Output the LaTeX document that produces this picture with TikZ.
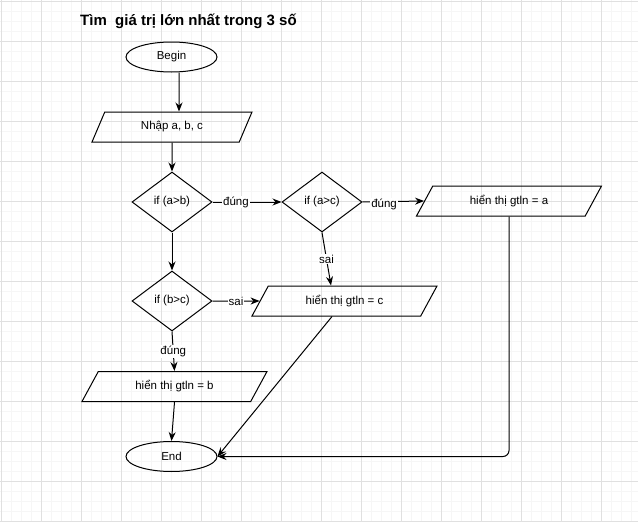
\documentclass[tikz,border=0pt]{standalone}
\usepackage{fontspec}
\setmainfont{Liberation Sans}
\usetikzlibrary{shapes.geometric,arrows.meta}
\definecolor{gridmajor}{HTML}{E0E0E0}
\definecolor{gridminor}{HTML}{F6F6F6}
\tikzset{
 base/.style={draw,line width=1pt,font=\fontsize{11.5}{13}\selectfont,inner sep=1pt},
 term/.style={base,ellipse,minimum width=91pt,minimum height=30pt},
 io/.style={base,trapezium,trapezium left angle=40,trapezium right angle=140,trapezium stretches body,minimum width=185pt,minimum height=30pt},
 cond/.style={base,diamond,minimum width=80pt,minimum height=60pt},
 flow/.style={line width=1pt,-{Stealth[length=9pt,width=7pt]}},
 lbl/.style={fill=white,font=\fontsize{11.5}{13}\selectfont,inner sep=1pt}
}
\begin{document}
\begin{tikzpicture}
[x=1pt,y=-1pt]
\useasboundingbox (0,0) rectangle (638,522);
\fill[white] (0,0) rectangle (638,522);
\foreach \i in {0,...,63} \draw[gridminor] (1+10*\i,0)--(1+10*\i,522);
\foreach \i in {0,...,52} \draw[gridminor] (0,1+10*\i)--(638,1+10*\i);
\foreach \i in {0,...,15} \draw[gridmajor] (1+40*\i,0)--(1+40*\i,522);
\foreach \i in {0,...,13} \draw[gridmajor] (0,1+40*\i)--(638,1+40*\i);
\node[anchor=base west,font=\bfseries\fontsize{15}{18}\selectfont,inner sep=0pt] (title) at (80,26) {Tìm\ \ giá trị lớn nhất trong 3 số};
\node[term] (begin) at (171.5,57) {Begin};
\node[io,trapezium left angle=45,trapezium right angle=135,minimum width=160pt] (nhap) at (172,127) {Nhập a, b, c};
\node[cond] (ifab) at (172,202) {if (a>b)};
\node[cond] (ifac) at (322,202) {if (a>c)};
\node[cond] (ifbc) at (172,301) {if (b>c)};
\node[io] (outa) at (509,201) {hiển thị gtln = a};
\node[io] (outc) at (344.5,301) {hiển thị gtln = c};
\node[io] (outb) at (174.5,386.5) {hiển thị gtln = b};
\node[term] (stop) at (171.5,456.5) {End};
\draw[flow] ([xshift=7.5pt]begin.south) -- ([xshift=7pt]nhap.north);
\draw[flow] (nhap.south) -- (ifab.north);
\draw[flow] (ifab.east) -- node[lbl,pos=0.34]{đúng} (ifac.west);
\draw[flow] (ifac.east) -- node[lbl,pos=0.35,yshift=-3pt]{đúng} (outa.west);
\draw[flow] (ifac.south) -- node[lbl]{sai} ([xshift=-13.5pt]outc.north);
\draw[flow] (ifab.south) -- (ifbc.north);
\draw[flow] (ifbc.east) -- node[lbl]{sai} (outc.west);
\draw[flow] (ifbc.south) -- node[lbl]{đúng} (outb.north);
\draw[flow] (outb.south) -- (stop.north);
\draw[flow] ([xshift=-12.5pt]outc.south) -- (stop.east);
\draw[flow,rounded corners=6pt] (outa.south) |- (stop.east);
\end{tikzpicture}
\end{document}
